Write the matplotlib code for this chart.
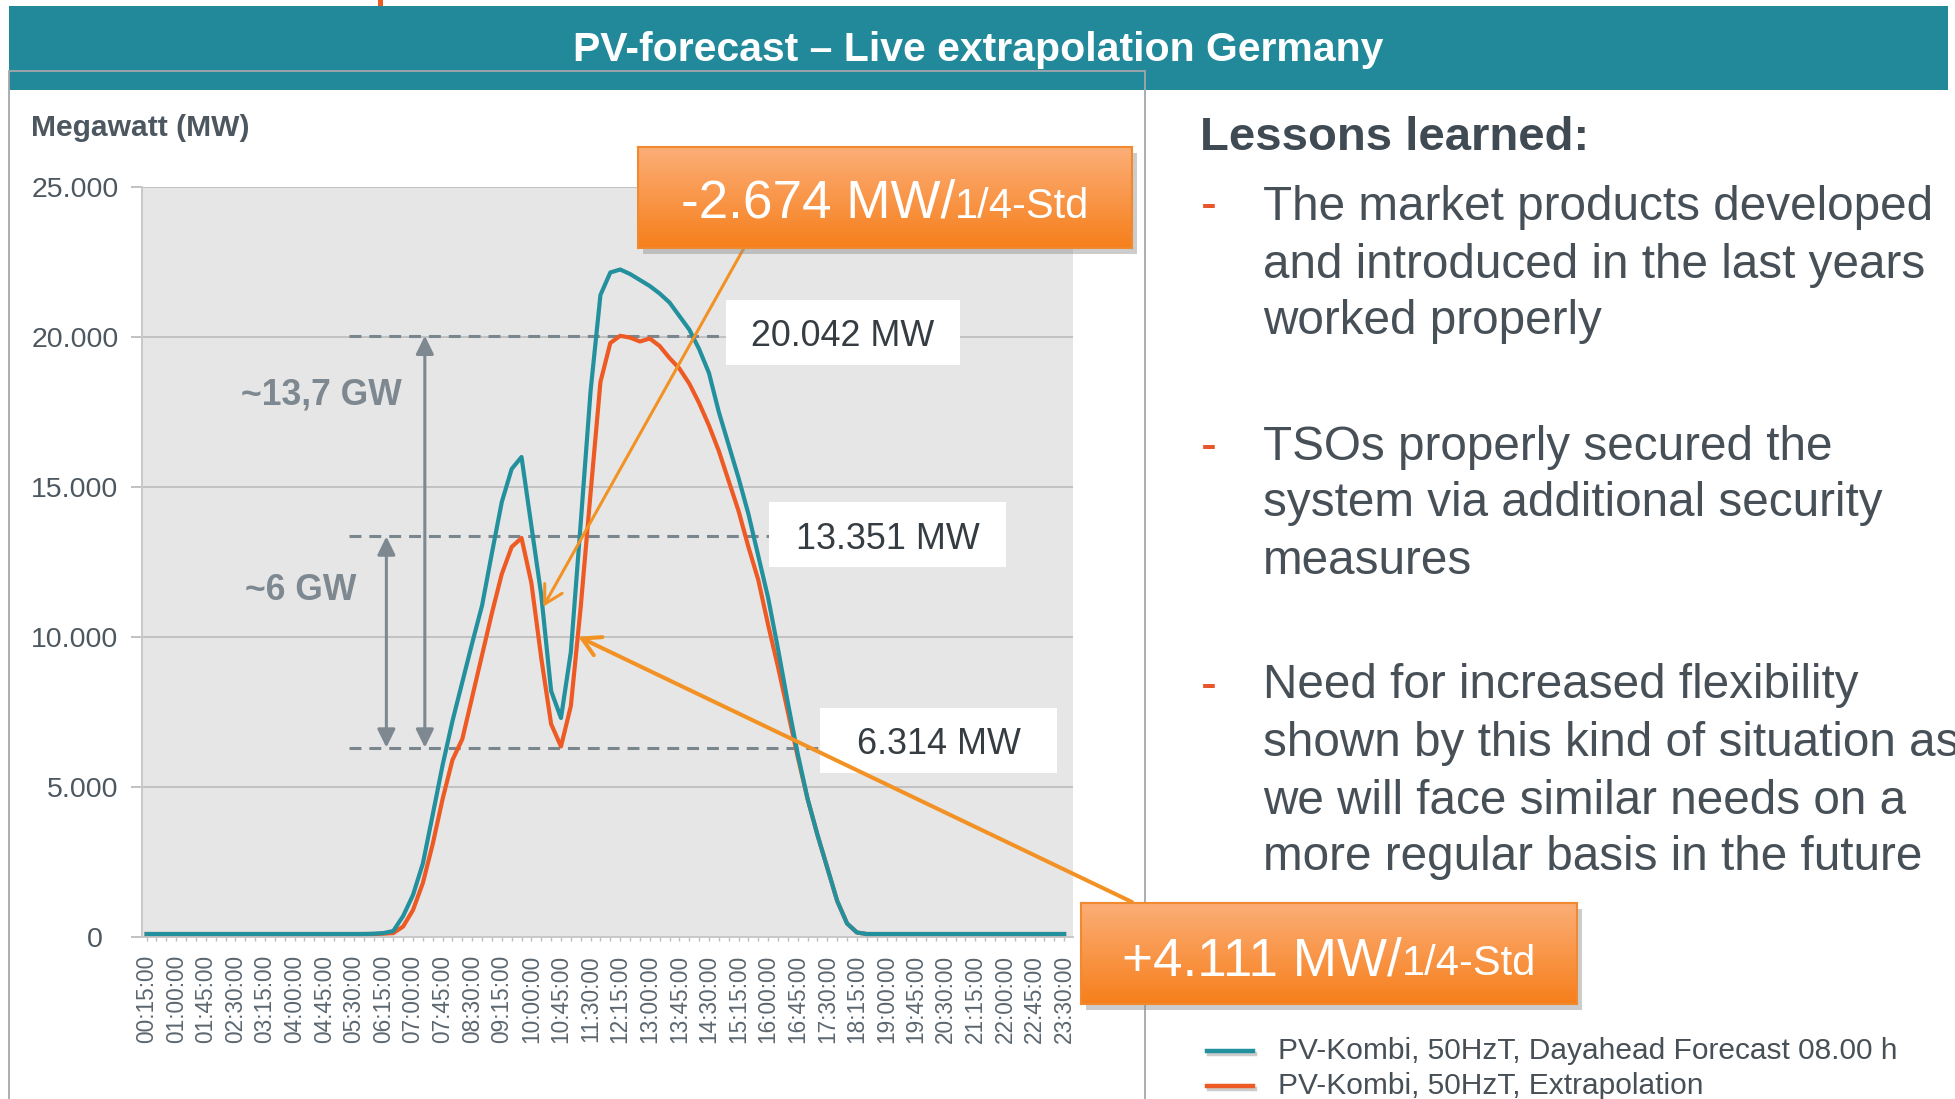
import matplotlib
matplotlib.use('Agg')
import matplotlib.pyplot as plt
import numpy as np
from matplotlib.patches import Rectangle
from matplotlib.lines import Line2D
from matplotlib.colors import LinearSegmentedColormap

plt.rcParams['font.family'] = ['Liberation Sans', 'DejaVu Sans']

# ---------------- data ----------------
tick_labels = ["00:15:00", "01:00:00", "01:45:00", "02:30:00", "03:15:00", "04:00:00",
               "04:45:00", "05:30:00", "06:15:00", "07:00:00", "07:45:00", "08:30:00",
               "09:15:00", "10:00:00", "10:45:00", "11:30:00", "12:15:00", "13:00:00",
               "13:45:00", "14:30:00", "15:15:00", "16:00:00", "16:45:00", "17:30:00",
               "18:15:00", "19:00:00", "19:45:00", "20:30:00", "21:15:00", "22:00:00",
               "22:45:00", "23:30:00"]

forecast = [100, 100, 100, 100, 100, 100, 100, 100, 100, 100,
            100, 100, 100, 100, 100, 100, 100, 100, 100, 100,
            100, 100, 100, 110, 130, 200, 700, 1400, 2450, 4080,
            5730, 7200, 8500, 9800, 11050, 12800, 14500, 15600, 16000, 13700,
            11400, 8200, 7300, 9500, 13800, 18200, 21400, 22150, 22250, 22100,
            21900, 21700, 21450, 21150, 20700, 20250, 19600, 18800, 17500, 16400,
            15300, 14100, 12700, 11300, 9600, 7800, 6100, 4600, 3400, 2300,
            1200, 450, 150, 100, 100, 100, 100, 100, 100, 100,
            100, 100, 100, 100, 100, 100, 100, 100, 100, 100,
            100, 100, 100, 100]

extrapolation = [100, 100, 100, 100, 100, 100, 100, 100, 100, 100,
                 100, 100, 100, 100, 100, 100, 100, 100, 100, 100,
                 100, 100, 100, 100, 110, 130, 350, 900, 1800, 3100,
                 4600, 5900, 6600, 8000, 9400, 10800, 12100, 13000, 13300, 11800,
                 9300, 7100, 6350, 7700, 11000, 14800, 18500, 19800, 20040, 19980,
                 19850, 19950, 19700, 19300, 18950, 18450, 17800, 17050, 16200, 15200,
                 14200, 13000, 11900, 10400, 9000, 7500, 6000, 4600, 3400, 2300,
                 1200, 450, 150, 100, 100, 100, 100, 100, 100, 100,
                 100, 100, 100, 100, 100, 100, 100, 100, 100, 100,
                 100, 100, 100, 100]

series_labels = ["PV-Kombi, 50HzT, Dayahead Forecast 08.00 h",
                 "PV-Kombi, 50HzT, Extrapolation"]

y_ticks = [0, 5000, 10000, 15000, 20000, 25000]
y_tick_labels = ["0  ", "5.000", "10.000", "15.000", "20.000", "25.000"]

levels = [20042, 13351, 6314]
level_labels = ["20.042 MW", "13.351 MW", "6.314 MW"]

bullets = [["The market products developed", "and introduced in the last years", "worked properly"],
           ["TSOs properly secured the", "system via additional security", "measures"],
           ["Need for increased flexibility", "shown by this kind of situation as",
            "we will face similar needs on a", "more regular basis in the future"]]

# ---------------- styling ----------------
W, H = 1955, 1099
TEAL = '#22899A'
TEAL_LINE = '#23909D'
ORANGE_LINE = '#EE5A23'
ARROW_OR = '#F39224'
GRAY_ANN = '#7D8890'
TXT = '#474F57'


def F(x, y):
    return (x / W, 1 - y / H)


fig = plt.figure(figsize=(W / 100, H / 100), dpi=100)
fig.patch.set_facecolor('white')

# title band & panel frame
fig.add_artist(Rectangle(F(9, 90), (1948 - 9) / W, (90 - 6) / H, transform=fig.transFigure,
                         fc=TEAL, ec='none', zorder=0))
fig.add_artist(Rectangle(F(378, 6), 5 / W, 6 / H, transform=fig.transFigure,
                         fc='#EE5A23', ec='none', zorder=0))
fig.add_artist(Rectangle(F(9, 1110), (1145 - 9) / W, (1110 - 71) / H, transform=fig.transFigure,
                         fill=False, ec='#A3A8AC', lw=1.3, zorder=0.5))
fig.text(978 / W, 1 - 61 / H, "PV-forecast \u2013 Live extrapolation Germany", color='white',
         fontsize=29.5, fontweight='bold', ha='center', va='baseline', zorder=2)

# ---------------- main axes ----------------
ax = fig.add_axes([141.7 / W, 1 - 937 / H, (1073 - 141.7) / W, (937 - 187) / H], zorder=1)
ax.set_facecolor('#E6E6E6')
x = np.arange(len(forecast))
ax.plot(x, extrapolation, color=ORANGE_LINE, lw=3.0, zorder=5, solid_joinstyle='round')
ax.plot(x, forecast, color=TEAL_LINE, lw=3.0, zorder=6, solid_joinstyle='round')
ax.set_xlim(-0.5, 93.9)
ax.set_ylim(0, 25000)

ax.set_yticks(y_ticks)
ax.set_yticklabels(y_tick_labels)
ax.set_xticks(np.arange(0, len(forecast), 3))
ax.set_xticklabels(tick_labels, rotation=90)
ax.set_xticks(np.arange(len(forecast)), minor=True)
ax.set_axisbelow(True)
ax.yaxis.grid(True, color='#C2C2C2', lw=1.4)
ax.tick_params(axis='y', length=7.7, width=1.4, color='#C2C2C2', pad=9, labelsize=20.5,
               labelcolor='#4D5760')
ax.tick_params(axis='x', which='major', length=3, width=1.0, color='#BDBDBD', pad=10,
               labelsize=16.3, labelcolor='#5B666F')
ax.tick_params(axis='x', which='minor', length=3, width=1.0, color='#BDBDBD')
for s in ['top', 'right']:
    ax.spines[s].set_visible(False)
ax.spines['left'].set_color('#C8C8C8')
ax.spines['bottom'].set_color('#C8C8C8')
ax.spines['left'].set_linewidth(1.4)
ax.spines['bottom'].set_linewidth(1.4)

# dashed levels with value boxes
box_x = [(58.7, 82.4), (63.1, 87.1), (68.25, 92.3)]
box_y = [(19067, 21233), (12333, 14500), (5467, 7633)]
for lev, lab, bx, by in zip(levels, level_labels, box_x, box_y):
    ax.plot([20.5, bx[0]], [lev, lev], color='#7A868E', lw=2.2, dashes=(3.9, 2.6), zorder=3)
    ax.add_patch(Rectangle((bx[0], by[0]), bx[1] - bx[0], by[1] - by[0], fc='white', ec='none',
                           zorder=4, clip_on=False))
    ax.text((bx[0] + bx[1]) / 2, (by[0] + by[1]) / 2 - 150, lab, ha='center', va='center',
            fontsize=25.8, color='#353C42', zorder=4.5)

# gray double arrows
ax.annotate('', xy=(28.2, levels[0]), xytext=(28.2, levels[2]),
            arrowprops=dict(arrowstyle='<|-|>,head_length=0.55,head_width=0.27', color=GRAY_ANN,
                            lw=2.2, mutation_scale=20, shrinkA=0, shrinkB=0), zorder=4)
ax.annotate('', xy=(24.3, levels[1]), xytext=(24.3, levels[2]),
            arrowprops=dict(arrowstyle='<|-|>,head_length=0.55,head_width=0.27', color=GRAY_ANN,
                            lw=2.2, mutation_scale=20, shrinkA=0, shrinkB=0), zorder=4)
fig.text(321 / W, 1 - 395 / H, "~13,7 GW", fontsize=25.6, fontweight='bold', color=GRAY_ANN,
         ha='center', va='center', zorder=3)
fig.text(301 / W, 1 - 590 / H, "~6 GW", fontsize=25.6, fontweight='bold', color=GRAY_ANN,
         ha='center', va='center', zorder=3)

# orange callout arrows
ax.annotate('', xy=(40.2, 11010), xycoords='data', xytext=F(744, 248), textcoords='figure fraction',
            arrowprops=dict(arrowstyle='->,head_length=0.8,head_width=0.45', color=ARROW_OR, lw=2.2,
                            mutation_scale=16, shrinkA=0, shrinkB=0), annotation_clip=False, zorder=7)
ax.annotate('', xy=(43.76, 10010), xycoords='data', xytext=F(1132, 902), textcoords='figure fraction',
            arrowprops=dict(arrowstyle='->,head_length=0.8,head_width=0.45', color=ARROW_OR, lw=2.9,
                            mutation_scale=16, shrinkA=0, shrinkB=0), annotation_clip=False, zorder=7)

fig.text(31 / W, 1 - 127.5 / H, "Megawatt (MW)", fontsize=21.6, fontweight='bold', color='#4D5760',
         ha='left', va='center', zorder=3)

# ---------------- callout boxes ----------------
cmap = LinearSegmentedColormap.from_list('or', ['#FCAE78', '#F67F1B'])
grad = np.linspace(0, 1, 256).reshape(-1, 1)
renderer = fig.canvas.get_renderer()


def callout(x0, y0, x1, y1, big, small, base_y):
    fig.add_artist(Rectangle(F(x0 + 5, y1 + 6), (x1 - x0) / W, (y1 - y0) / H,
                             transform=fig.transFigure, fc='#8E8E8E', ec='none', alpha=0.45, zorder=8))
    axb = fig.add_axes([x0 / W, 1 - y1 / H, (x1 - x0) / W, (y1 - y0) / H], zorder=9)
    axb.imshow(grad, aspect='auto', cmap=cmap, extent=[0, 1, 0, 1], origin='upper')
    axb.set_xticks([])
    axb.set_yticks([])
    for s in axb.spines.values():
        s.set_color('#F08A2E')
        s.set_linewidth(1.5)
    t1 = fig.text(0, 0, big, fontsize=38.2, color='white', ha='left', va='baseline', zorder=12)
    t2 = fig.text(0, 0, small, fontsize=30, color='white', ha='left', va='baseline', zorder=12)
    w1 = t1.get_window_extent(renderer).width
    w2 = t2.get_window_extent(renderer).width
    cx = (x0 + x1) / 2
    xs = cx - (w1 + w2) / 2
    t1.set_position(F(xs, base_y))
    t2.set_position(F(xs + w1, base_y))


callout(638, 147, 1132, 248, "-2.674 MW/", "1/4-Std", 218)
callout(1081, 903, 1577, 1004, "+4.111 MW/", "1/4-Std", 975)

# ---------------- right text panel ----------------
fig.text(1200 / W, 1 - 138 / H, "Lessons learned:", fontsize=34, fontweight='bold', color='#3F4A53',
         ha='left', va='center')
line_y = [[207, 265, 322], [447, 504, 561], [686, 743, 801, 858]]
for lines, ys in zip(bullets, line_y):
    fig.text(1201 / W, 1 - ys[0] / H, "-", fontsize=34.3, color='#E8562A', ha='left', va='center')
    for ln, yy in zip(lines, ys):
        fig.text(1263 / W, 1 - yy / H, ln, fontsize=34.3, color=TXT, ha='left', va='center')

# legend
for lab, col, yy in zip(series_labels, [TEAL_LINE, ORANGE_LINE], [1051, 1086]):
    fig.add_artist(Line2D([1209 / W, 1255 / W], [1 - (yy + 3) / H] * 2, color='#9A9A9A', lw=3.2,
                          alpha=0.5, transform=fig.transFigure))
    fig.add_artist(Line2D([1207 / W, 1253 / W], [1 - yy / H] * 2, color=col, lw=3.2,
                          transform=fig.transFigure))
    fig.text(1278 / W, 1 - yy / H, lab, fontsize=21.5, color=TXT, ha='left', va='center')

fig.savefig('out.png', dpi=100)
